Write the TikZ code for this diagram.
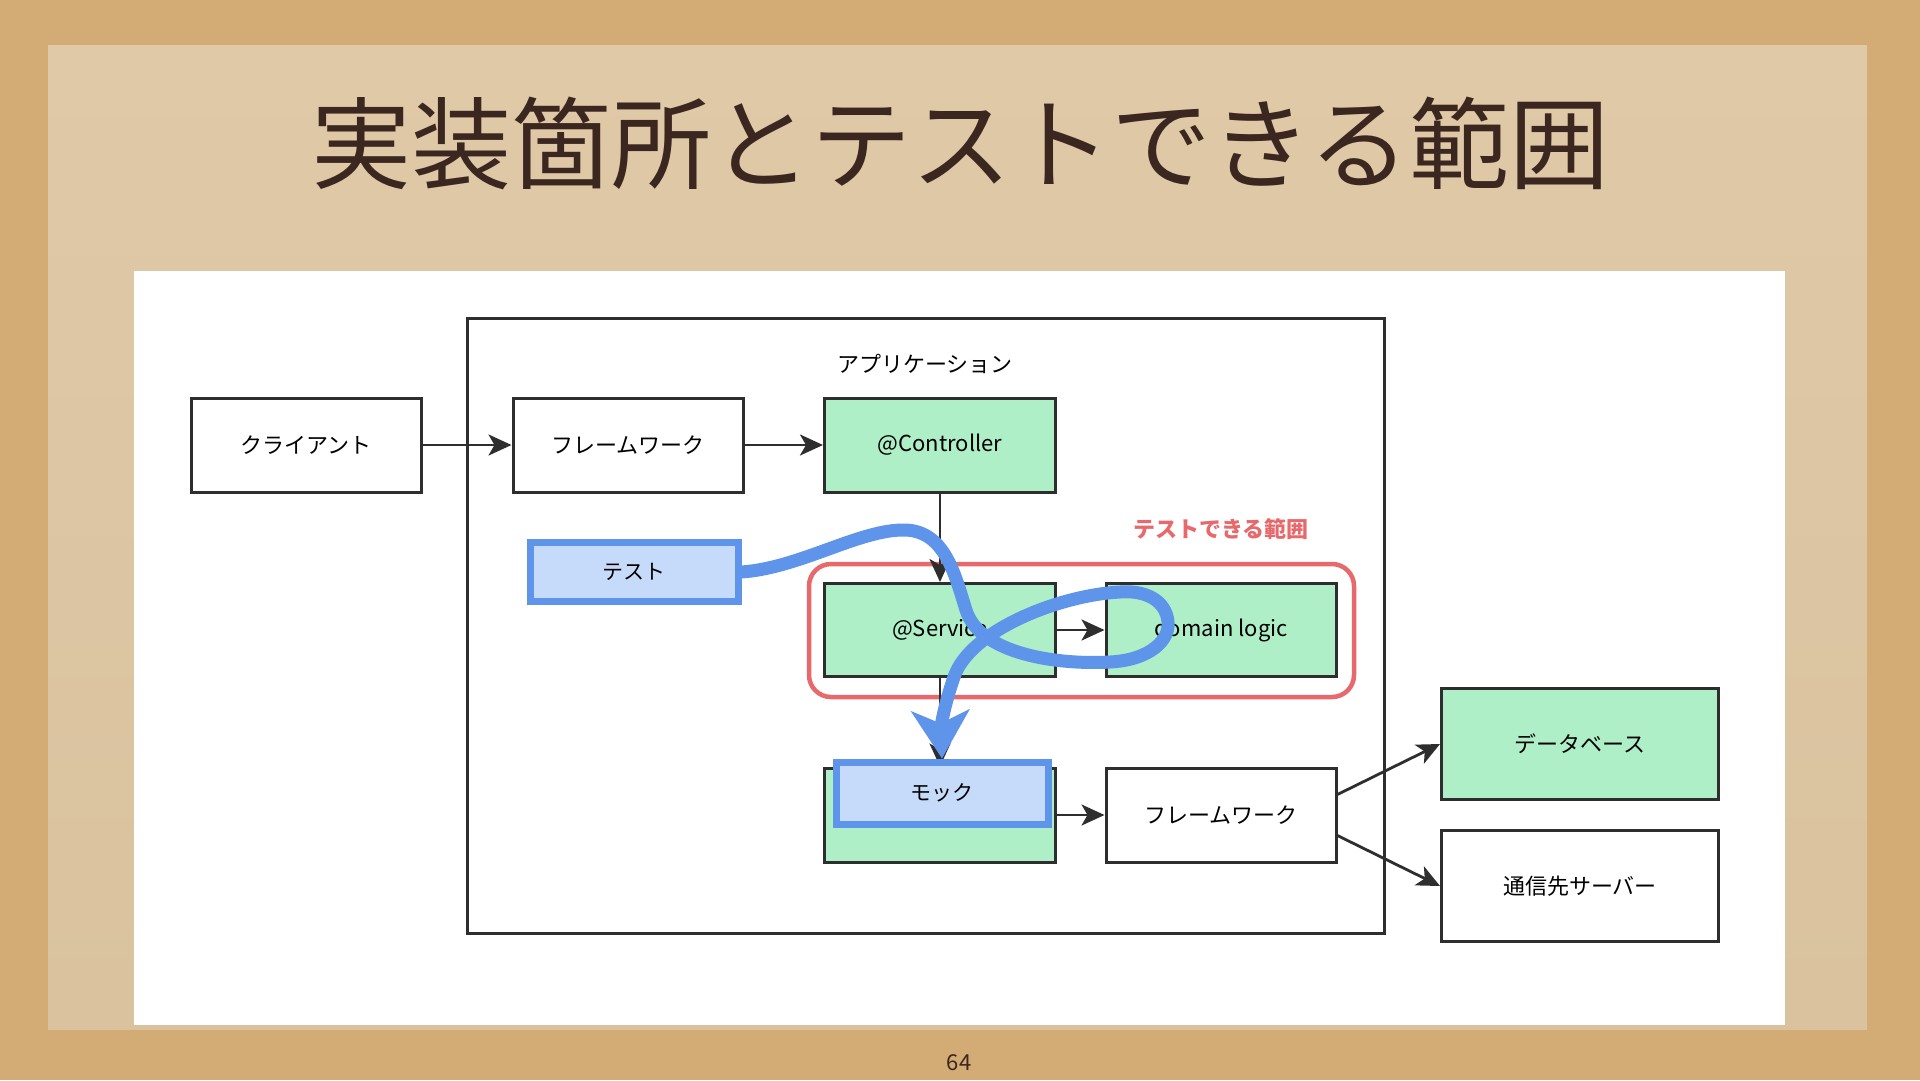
\documentclass[tikz,border=0pt]{standalone}
\usepackage{fontspec}
\setmainfont{Noto Sans CJK JP}
\usetikzlibrary{arrows.meta}
\definecolor{cork}{HTML}{D3AB74}
\definecolor{papertop}{HTML}{DFC9A7}
\definecolor{paperbot}{HTML}{DAC29E}
\definecolor{titlebrown}{HTML}{3B2620}
\definecolor{boxgreen}{HTML}{AEEFC8}
\definecolor{testblue}{HTML}{C6DBFA}
\definecolor{edgeblue}{HTML}{5E95EB}
\definecolor{scopered}{HTML}{E8696C}
\definecolor{ink}{HTML}{2E2E2E}
\begin{document}
\begin{tikzpicture}[x=1pt,y=-1pt,
  box/.style={draw=ink, line width=3pt, minimum width=230pt, minimum height=94pt,
    inner sep=0pt, font=\fontsize{22}{26}\selectfont, text=black, fill=white},
  greenbox/.style={box, fill=boxgreen},
  bluebox/.style={draw=edgeblue, line width=7pt, fill=testblue, inner sep=0pt,
    font=\fontsize{21}{26}\selectfont, text=black},
  conn/.style={draw=ink, line width=2.8pt, -{Stealth[length=23pt,width=21pt,inset=6pt]}},
  flow/.style={draw=edgeblue, line width=13pt, -{Stealth[length=48pt,width=58pt,inset=13pt]}},
  lbl/.style={font=\fontsize{22}{26}\selectfont, text=black, inner sep=0pt}
]
\useasboundingbox (0,0) rectangle (1920,1080);
% background
\fill[cork] (0,0) rectangle (1920,1080);
\shade[top color=papertop, bottom color=paperbot] (48,45) rectangle (1867,1029);
\fill[white] (134,271) rectangle (1785,1025);

% title
\node[text=titlebrown, font=\fontsize{100}{114}\selectfont, inner sep=0pt] (title) at (960,143) {実装箇所とテストできる範囲};
% page number
\node[text=titlebrown, font=\fontsize{22}{26}\selectfont, inner sep=0pt] (pagenum) at (959,1063) {64};

% application container
\draw[ink, line width=3pt] (467,318) rectangle (1384,933);
\node[lbl] (applabel) at (925,364) {アプリケーション};

% scope
\draw[scopered, line width=4.5pt, rounded corners=22pt] (809,564) rectangle (1354,697);
\node[lbl, text=scopered, font=\bfseries\fontsize{22}{26}\selectfont] (scopelabel) at (1221,529) {テストできる範囲};

% nodes
\node[box] (client) at (306,445) {クライアント};
\node[box] (fw1) at (628,445) {フレームワーク};
\node[greenbox, minimum width=231pt] (ctrl) at (940,445) {@Controller};
\node[bluebox, minimum width=208pt, minimum height=59pt] (test) at (634,572) {テスト};
\node[greenbox, minimum width=231pt, minimum height=93pt] (service) at (940,630) {@Service};
\node[greenbox, minimum height=93pt] (domain) at (1221,630) {domain logic};
\node[greenbox, minimum width=231pt] (mockbase) at (940,815) {};
\node[box] (fw2) at (1221,815) {フレームワーク};
\node[greenbox, minimum width=277pt, minimum height=111pt] (db) at (1580,744) {データベース};
\node[box, minimum width=277pt, minimum height=111pt] (server) at (1580,886) {通信先サーバー};

% black connectors
\draw[conn] (client.east) -- (fw1.west);
\draw[conn] (fw1.east) -- (ctrl.west);
\draw[conn] (ctrl.south) -- (service.north);
\draw[conn] (service.east) -- (domain.west);
\draw[conn] (service.south) -- (mockbase.north);
\draw[conn] (mockbase.east) -- (fw2.west);
\draw[conn] (fw2.10) -- (db.west);
\draw[conn] (fw2.-10) -- (server.west);

% mock overlay
\node[bluebox, minimum width=212pt, minimum height=62pt] (mock) at (942,793) {モック};

% blue test flow
\draw[flow] (test.east)
  .. controls (800,568) and (860,529) .. (905,530)
  .. controls (945,531) and (955,575) .. (966,610)
  .. controls (980,655) and (1060,665) .. (1110,662)
  .. controls (1150,660) and (1170,640) .. (1168,622)
  .. controls (1166,600) and (1145,590) .. (1120,592)
  .. controls (1060,595) and (970,630) .. (954,677)
  .. controls (942,712) and (941,730) .. (mock.north);
\end{tikzpicture}
\end{document}
